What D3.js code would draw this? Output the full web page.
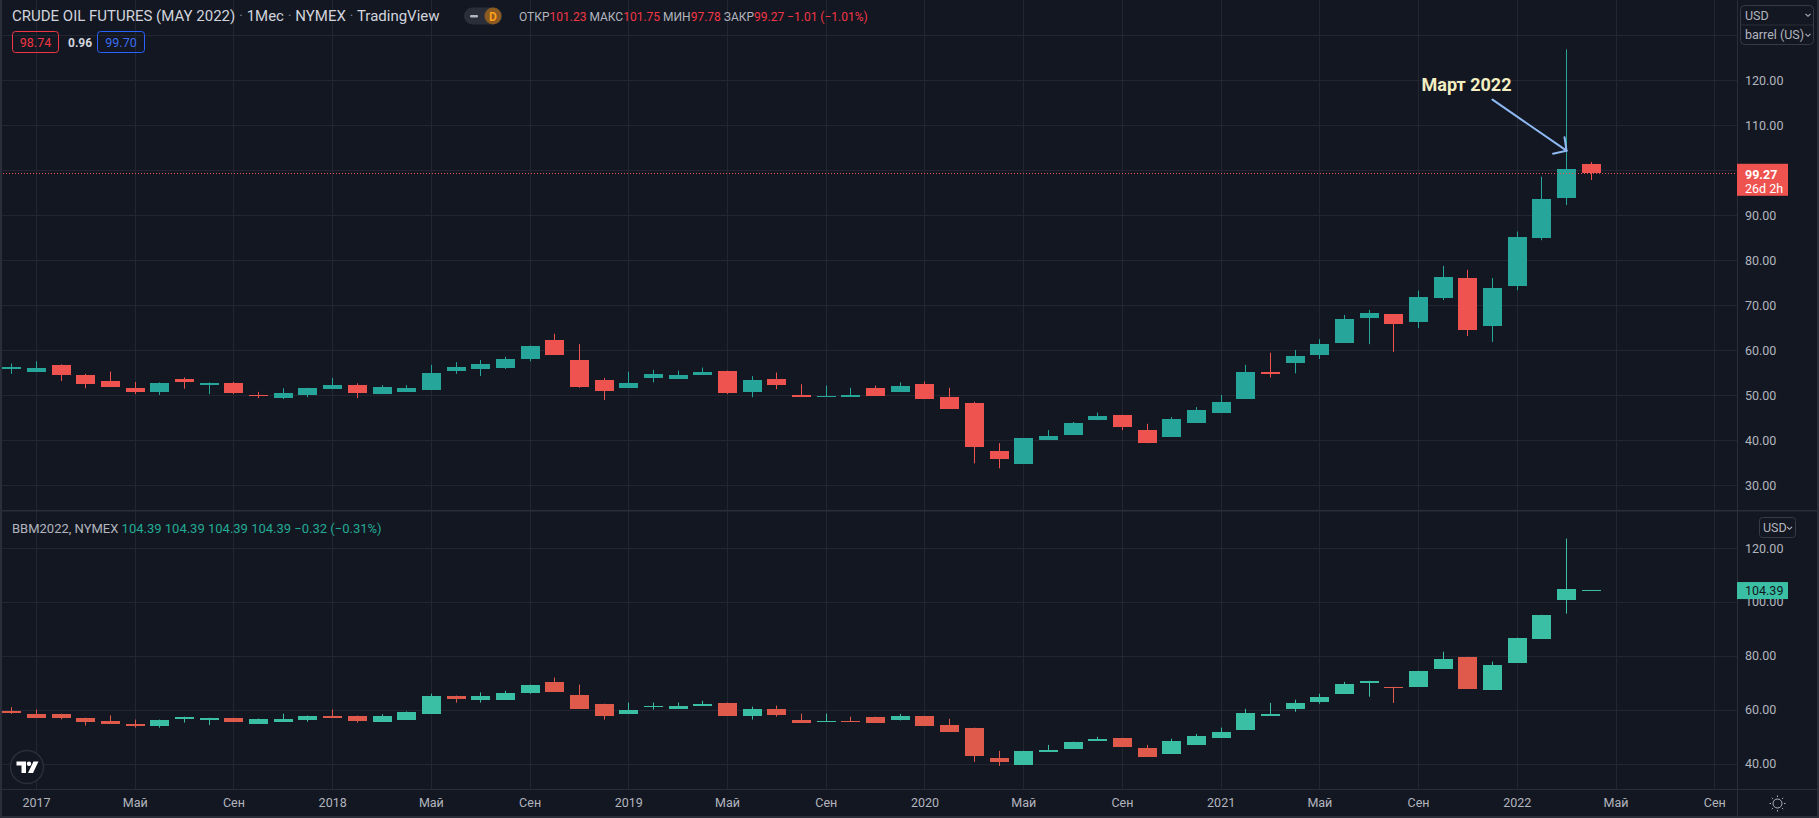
<!DOCTYPE html>
<html><head><meta charset="utf-8">
<script src="https://cdn.jsdelivr.net/npm/d3@7"></script>
<style>
html,body{margin:0;padding:0;background:#131722;overflow:hidden}
svg{display:block}
text{font-family:Roboto,"Noto Sans",sans-serif}
</style></head><body>
<svg id="chart" width="1819" height="818"></svg>
<script>
// ---------- DATA ----------
const months = ["2016-12",
 "2017-01","2017-02","2017-03","2017-04","2017-05","2017-06","2017-07","2017-08","2017-09","2017-10","2017-11","2017-12",
 "2018-01","2018-02","2018-03","2018-04","2018-05","2018-06","2018-07","2018-08","2018-09","2018-10","2018-11","2018-12",
 "2019-01","2019-02","2019-03","2019-04","2019-05","2019-06","2019-07","2019-08","2019-09","2019-10","2019-11","2019-12",
 "2020-01","2020-02","2020-03","2020-04","2020-05","2020-06","2020-07","2020-08","2020-09","2020-10","2020-11","2020-12",
 "2021-01","2021-02","2021-03","2021-04","2021-05","2021-06","2021-07","2021-08","2021-09","2021-10","2021-11","2021-12",
 "2022-01","2022-02","2022-03","2022-04"];

// CRUDE OIL FUTURES (MAY 2022), NYMEX
const crudeOpen = [55.8,55.1,56.7,54.4,53.1,51.6,50.7,53.6,52.3,52.7,50.1,49.4,50.0,
 51.3,52.2,50.2,50.7,51.1,55.3,55.8,56.0,58.0,62.2,57.8,53.3,
 51.6,53.9,53.6,54.5,55.3,50.7,53.6,50.0,49.6,49.6,51.6,50.7,
 52.4,49.6,48.2,37.6,34.7,40.0,41.1,44.4,45.6,42.2,40.7,43.8,
 46.0,49.1,55.1,57.1,58.9,61.6,67.1,68.0,66.2,71.6,76.0,65.3,
 74.0,84.8,93.9,101.23];
const crudeHigh = [57.0,57.5,56.8,54.7,55.2,52.9,52.8,53.9,52.8,52.9,50.7,51.5,51.6,
 53.8,52.6,52.2,52.2,56.7,57.3,57.8,58.5,61.0,63.6,61.3,53.8,
 55.2,55.6,55.4,56.1,55.4,54.2,55.0,52.4,52.1,51.6,52.1,52.8,
 53.0,51.6,48.5,39.3,40.4,42.2,44.0,46.1,45.6,43.6,45.1,47.3,
 50.0,56.7,59.4,60.0,62.4,67.8,68.9,68.0,73.2,78.7,77.8,76.0,
 86.3,98.5,126.8,101.75];
const crudeLow = [54.7,55.1,53.1,51.5,51.8,50.2,50.0,51.4,50.2,50.2,49.3,49.1,49.5,
 51.3,49.3,50.2,50.7,51.1,54.7,54.2,55.8,57.5,58.9,51.6,48.9,
 51.6,52.8,53.6,54.5,50.2,49.5,51.3,49.6,49.6,49.6,49.8,50.7,
 49.1,46.9,34.8,33.7,34.7,40.0,41.1,44.4,42.2,39.3,40.7,43.8,
 46.0,49.1,53.9,54.8,58.0,61.6,61.3,59.6,64.9,71.1,63.1,61.8,
 73.3,84.4,92.2,97.78];
const crudeClose = [56.3,56.0,54.4,52.4,51.8,50.7,52.7,52.9,52.7,50.4,49.8,50.4,51.6,
 52.2,50.4,51.8,51.6,54.9,56.2,56.9,58.0,60.9,58.9,51.8,50.9,
 52.7,54.7,54.5,55.2,50.5,53.3,52.2,49.6,49.8,50.0,49.8,52.0,
 49.1,46.9,38.4,35.8,40.4,40.9,43.8,45.3,42.9,39.3,44.7,46.7,
 48.4,55.1,54.7,58.7,61.3,66.9,68.2,65.8,71.8,76.2,64.4,73.8,
 85.0,93.5,100.28,99.27];

// BBM2022, NYMEX
const brentOpen = [59.6,58.5,58.5,57.0,55.9,54.8,54.1,56.7,56.3,57.0,54.8,55.5,56.3,
 57.8,57.8,55.5,56.3,58.5,65.2,63.7,63.7,66.3,70.4,65.6,62.2,
 58.5,61.1,60.4,61.5,62.6,57.8,60.4,56.3,55.5,55.9,57.4,56.0,
 57.7,54.4,53.3,42.1,39.5,44.3,45.4,48.4,49.5,45.8,43.6,46.9,
 49.5,52.5,57.7,60.3,62.9,65.9,70.0,68.5,68.5,75.2,79.6,67.4,
 77.4,86.3,100.8,104.39];
const brentHigh = [60.9,60.0,58.5,57.0,57.9,56.3,56.3,57.4,57.0,57.0,56.7,58.5,57.8,
 60.0,57.8,58.3,59.3,65.9,65.2,66.4,67.0,69.3,71.9,69.3,62.2,
 62.6,62.6,62.6,63.3,62.6,61.1,61.5,58.5,58.5,57.4,57.4,58.4,
 57.7,56.6,53.3,44.7,44.7,46.9,48.1,49.9,49.5,46.9,49.2,51.0,
 53.3,60.3,62.5,63.7,65.9,70.3,70.7,68.5,74.4,81.5,79.6,77.8,
 86.7,95.2,123.5,104.39];
const brentLow = [58.4,57.2,56.4,54.1,54.8,53.3,53.3,55.2,54.3,55.5,54.8,55.5,55.5,
 57.0,55.2,55.5,56.3,58.5,62.6,62.6,63.7,65.9,66.7,60.4,56.3,
 58.5,60.0,60.4,61.5,57.8,56.3,57.4,55.2,55.5,55.5,55.2,56.0,
 54.0,51.8,40.6,39.1,39.5,44.3,45.4,48.4,46.2,42.5,43.6,46.9,
 49.5,52.5,57.7,59.2,62.2,65.9,64.8,62.5,68.5,75.2,67.7,67.4,
 77.4,86.3,95.6,104.39];
const brentClose = [58.9,57.2,57.0,55.5,54.8,54.1,56.3,57.4,57.0,55.5,56.7,56.7,57.8,
 57.0,55.9,57.8,59.3,65.2,64.1,65.2,66.3,69.3,66.7,60.4,57.8,
 60.0,61.5,61.5,62.2,57.8,60.4,58.1,55.2,55.9,55.5,55.2,57.5,
 54.0,51.8,42.9,40.6,44.7,45.1,48.1,49.2,46.2,42.5,48.4,50.3,
 51.8,58.8,58.4,62.5,64.8,69.6,70.7,68.1,74.4,78.9,67.7,76.7,
 86.7,95.2,104.71,104.39];

const upperGrid = [30,40,50,60,70,80,90,100,110,120,130];
const upperTicks = [30,40,50,60,70,80,90,110,120];
const lowerTicks = [40,60,80,100,120];
const timeTickMonths = ["2017-01","2017-05","2017-09","2018-01","2018-05","2018-09","2019-01","2019-05","2019-09",
 "2020-01","2020-05","2020-09","2021-01","2021-05","2021-09","2022-01","2022-05","2022-09"];
const timeTickLabels = ["2017","Май","Сен","2018","Май","Сен","2019","Май","Сен",
 "2020","Май","Сен","2021","Май","Сен","2022","Май","Сен"];

// ---------- LAYOUT / STYLE ----------
const W = 1819, H = 818, axisX = 1737;
const upTop = 0, upBot = 510, loTop = 511, loBot = 789;
const C = {bg:"#131722", grid:"#232631", sep:"#2a2e39", text:"#b2b5be", title:"#d1d4dc",
  up:"#26a69a", down:"#ef5350", up2:"#3bbfa4", down2:"#e05a4b", blue:"#3b6cf0"};

const svg = d3.select("#chart");
svg.append("rect").attr("width",W).attr("height",H).attr("fill",C.bg);

const monthIdx = s => { const [y,m] = s.split("-").map(Number); return (y-2017)*12 + (m-1); };
const x = d3.scaleLinear().domain([0,60]).range([36, 36+60*24.68]);
const bodyW = 19;
const yU = d3.scaleLinear().domain([30,120]).range([485,80]);
const yL = d3.scaleLinear().domain([40,120]).range([763.5,548]);

const defs = svg.append("defs");
defs.append("clipPath").attr("id","clipU").append("rect").attr("x",0).attr("y",upTop).attr("width",axisX).attr("height",upBot-upTop);
defs.append("clipPath").attr("id","clipL").append("rect").attr("x",0).attr("y",loTop).attr("width",axisX).attr("height",loBot-loTop);

// ---------- GRID ----------
const grid = svg.append("g");
timeTickMonths.forEach(m => {
  const gx = Math.round(x(monthIdx(m))) + 0.5;
  grid.append("line").attr("x1",gx).attr("x2",gx).attr("y1",0).attr("y2",loBot).attr("stroke",C.grid);
});
const gU = grid.append("g").attr("clip-path","url(#clipU)");
upperGrid.forEach(v => { const gy = Math.round(yU(v))+0.5;
  gU.append("line").attr("x1",0).attr("x2",axisX).attr("y1",gy).attr("y2",gy).attr("stroke",C.grid); });
const gL = grid.append("g").attr("clip-path","url(#clipL)");
lowerTicks.forEach(v => { const gy = Math.round(yL(v))+0.5;
  gL.append("line").attr("x1",0).attr("x2",axisX).attr("y1",gy).attr("y2",gy).attr("stroke",C.grid); });

// ---------- CANDLES ----------
function candles(g, y, O, Hh, L, Cl, upC, downC) {
  const data = months.map((m,i)=>({i:monthIdx(m), o:O[i], h:Hh[i], l:L[i], c:Cl[i]}));
  const sel = g.selectAll("g.c").data(data).enter().append("g").attr("class","c");
  sel.each(function(d){
    const g1 = d3.select(this);
    const cx = Math.round(x(d.i));
    const col = d.c >= d.o ? upC : downC;
    const yh = y(d.h), yl = y(d.l);
    g1.append("rect").attr("x",cx).attr("width",1).attr("y",yh).attr("height",Math.max(1,yl-yh)).attr("fill",col);
    const yt = y(Math.max(d.o,d.c)), yb = y(Math.min(d.o,d.c));
    g1.append("rect").attr("x",cx-9).attr("width",bodyW).attr("y",Math.round(yt)).attr("height",Math.max(1,Math.round(yb-yt))).attr("fill",col);
  });
}
candles(svg.append("g").attr("clip-path","url(#clipU)"), yU, crudeOpen, crudeHigh, crudeLow, crudeClose, C.up, C.down);
candles(svg.append("g").attr("clip-path","url(#clipL)"), yL, brentOpen, brentHigh, brentLow, brentClose, C.up2, C.down2);

// last price dotted line (upper)
const lastU = crudeClose[crudeClose.length-1];
const ly = Math.round(yU(lastU))+0.5;
svg.append("line").attr("x1",0).attr("x2",axisX).attr("y1",ly).attr("y2",ly)
  .attr("stroke",C.down).attr("stroke-dasharray","1,2");

// ---------- SEPARATORS ----------
svg.append("rect").attr("x",0).attr("y",0).attr("width",2).attr("height",H).attr("fill",C.sep);
svg.append("rect").attr("x",0).attr("y",upBot).attr("width",W).attr("height",1.5).attr("fill",C.sep);
svg.append("rect").attr("x",0).attr("y",loBot).attr("width",W).attr("height",1).attr("fill",C.sep);
svg.append("rect").attr("x",axisX).attr("y",0).attr("width",1).attr("height",H).attr("fill",C.sep);
svg.append("rect").attr("x",W-2).attr("y",0).attr("width",2).attr("height",H).attr("fill",C.sep);
svg.append("rect").attr("x",0).attr("y",H-2).attr("width",W).attr("height",2).attr("fill",C.sep);

// ---------- PRICE AXES ----------
function styleAxis(g){
  g.select(".domain").remove();
  g.selectAll("text").attr("fill",C.text).attr("font-size",12.5).attr("font-family","Roboto").attr("text-anchor","start");
}
svg.append("g").attr("transform",`translate(${axisX},0)`)
  .call(d3.axisRight(yU).tickValues(upperTicks).tickFormat(d3.format(".2f")).tickSize(0).tickPadding(8))
  .call(styleAxis);
svg.append("g").attr("transform",`translate(${axisX},0)`)
  .call(d3.axisRight(yL).tickValues(lowerTicks).tickFormat(d3.format(".2f")).tickSize(0).tickPadding(8))
  .call(styleAxis);

// ---------- TIME AXIS ----------
const tAx = svg.append("g").attr("transform",`translate(0,${loBot})`)
  .call(d3.axisBottom(x).tickValues(timeTickMonths.map(monthIdx)).tickFormat((d,i)=>timeTickLabels[i]).tickSize(0).tickPadding(9));
tAx.select(".domain").remove();
tAx.selectAll("text").attr("fill",C.text).attr("font-size",12.5).attr("font-family","Roboto");

// ---------- LABELS ON AXIS ----------
const tb = svg.append("g");
tb.append("rect").attr("x",1740.5).attr("y",5.5).attr("width",73).attr("height",39).attr("rx",4)
  .attr("fill",C.bg).attr("stroke","#363a45");
tb.append("line").attr("x1",1741).attr("x2",1813).attr("y1",25).attr("y2",25).attr("stroke","#2a2e39");
tb.append("text").attr("x",1745).attr("y",19.5).attr("fill",C.text).attr("font-size",12.5).text("USD");
tb.append("text").attr("x",1745).attr("y",39).attr("fill",C.text).attr("font-size",12.5).text("barrel (US)");
function chevron(g,cx,cy){ g.append("path").attr("d",`M${cx-2.5},${cy-1.2} L${cx},${cy+1.3} L${cx+2.5},${cy-1.2}`)
  .attr("fill","none").attr("stroke",C.text).attr("stroke-width",1.1); }
chevron(tb,1808,15); chevron(tb,1808,35);

const pl = svg.append("g");
pl.append("rect").attr("x",axisX).attr("y",yU(lastU)-9.5).attr("width",51).attr("height",32).attr("fill",C.down);
pl.append("text").attr("x",1745).attr("y",yU(lastU)+5.5).attr("fill","#ffffff").attr("font-size",12.5).attr("font-weight","bold").text(d3.format(".2f")(lastU));
pl.append("text").attr("x",1745).attr("y",yU(lastU)+19.5).attr("fill","#ffffff").attr("font-size",12.5).text("26d 2h");

const lb = svg.append("g");
lb.append("rect").attr("x",1759.5).attr("y",517.5).attr("width",36).attr("height",20).attr("rx",3)
  .attr("fill",C.bg).attr("stroke","#363a45");
lb.append("text").attr("x",1763).attr("y",532).attr("fill",C.text).attr("font-size",12.5).text("USD");
chevron(lb,1789.5,528);

const lastL = brentClose[brentClose.length-1];
svg.append("rect").attr("x",axisX).attr("y",yL(lastL)-8).attr("width",51).attr("height",17).attr("fill",C.up2);
svg.append("text").attr("x",1745).attr("y",yL(lastL)+4.5).attr("fill","#131722").attr("font-size",12.5).text(d3.format(".2f")(lastL));

// ---------- HEADER ----------
const hd = svg.append("g");
const title = hd.append("text").attr("x",12).attr("y",21).attr("font-size",15).attr("fill",C.title);
title.append("tspan").text("CRUDE OIL FUTURES (MAY 2022)");
title.append("tspan").attr("fill","#787b86").text(" · ");
title.append("tspan").text("1Мес");
title.append("tspan").attr("fill","#787b86").text(" · ");
title.append("tspan").text("NYMEX");
title.append("tspan").attr("fill","#787b86").text(" · ");
title.append("tspan").text("TradingView");

hd.append("rect").attr("x",464).attr("y",7.5).attr("width",38).attr("height",17).attr("rx",8.5).attr("fill","#2a2e39");
hd.append("rect").attr("x",470).attr("y",15).attr("width",8).attr("height",2.5).attr("rx",1).attr("fill","#b2b5be");
hd.append("circle").attr("cx",493).attr("cy",16).attr("r",8.5).attr("fill","#8a5a22");
hd.append("text").attr("x",493).attr("y",20.5).attr("text-anchor","middle").attr("font-size",12).attr("font-weight","bold").attr("fill","#ff9f1a").text("D");

const ohlcLabels = ["ОТКР","МАКС","МИН","ЗАКР"];
const ohlcValues = [crudeOpen, crudeHigh, crudeLow, crudeClose].map(a=>a[a.length-1]);
const chg = lastU - crudeClose[crudeClose.length-2];
const lg = hd.append("text").attr("x",519).attr("y",20.5).attr("font-size",12);
ohlcLabels.forEach((l,i)=>{
  lg.append("tspan").attr("fill",C.text).text((i?" ":"")+l);
  lg.append("tspan").attr("fill","#f23645").text(d3.format(".2f")(ohlcValues[i]));
});
lg.append("tspan").attr("fill","#f23645").text(" " + d3.format(".2f")(chg).replace("-","−") + " (" + d3.format(".2f")(chg/crudeClose[crudeClose.length-2]*100).replace("-","−") + "%)");

hd.append("rect").attr("x",12.5).attr("y",31.5).attr("width",46).attr("height",21).attr("rx",3).attr("fill","none").attr("stroke","#f23645");
hd.append("text").attr("x",35.5).attr("y",46.5).attr("text-anchor","middle").attr("font-size",12.5).attr("fill","#f23645").text("98.74");
hd.append("text").attr("x",68).attr("y",46.5).attr("font-size",12).attr("font-weight","bold").attr("fill","#d1d4dc").text("0.96");
hd.append("rect").attr("x",97.5).attr("y",31.5).attr("width",47).attr("height",21).attr("rx",3).attr("fill","none").attr("stroke","#2962ff");
hd.append("text").attr("x",121).attr("y",46.5).attr("text-anchor","middle").attr("font-size",12.5).attr("fill",C.blue).text("99.70");

const lastBr = brentClose[brentClose.length-1], prevBr = brentClose[brentClose.length-2];
const l2 = svg.append("text").attr("x",12).attr("y",533).attr("font-size",13);
l2.append("tspan").attr("fill",C.text).text("BBM2022, NYMEX ");
[brentOpen, brentHigh, brentLow, brentClose].forEach(a=>{
  l2.append("tspan").attr("fill","#22ab94").text(" " + d3.format(".2f")(a[a.length-1]));
});
l2.append("tspan").attr("fill","#22ab94").text(" " + d3.format(".2f")(lastBr-prevBr).replace("-","−") + " (" + d3.format(".2f")((lastBr-prevBr)/prevBr*100).replace("-","−") + "%)");

// ---------- ANNOTATION ----------
const tipX = Math.round(x(monthIdx("2022-03"))) + 0.5, tipY = yU(104.3);
const an = svg.append("g");
an.append("line").attr("x1",tipX-74).attr("y1",tipY-51).attr("x2",tipX).attr("y2",tipY)
  .attr("stroke","#8fb9f2").attr("stroke-width",2).attr("stroke-linecap","round");
an.append("path").attr("d",`M${tipX-13.5},${tipY+3} L${tipX},${tipY} L${tipX-2},${tipY-13.5}`)
  .attr("fill","none").attr("stroke","#8fb9f2").attr("stroke-width",2).attr("stroke-linecap","round");
an.append("text").attr("x",tipX-145).attr("y",tipY-60).attr("font-size",18).attr("font-weight","bold")
  .attr("fill","#f4efc2").text("Март 2022");

// ---------- LOGO & SUN ----------
const lo = svg.append("g").attr("transform","translate(27,767)");
lo.append("circle").attr("r",16.5).attr("fill",C.bg).attr("stroke","#2a2e39").attr("stroke-width",1.5);
lo.append("path").attr("d","M-10.5,-5.5 H-1 V6 H-5.5 V-1.5 H-10.5 Z").attr("fill","#ffffff");
lo.append("circle").attr("cx",2).attr("cy",-3.3).attr("r",2.2).attr("fill","#ffffff");
lo.append("path").attr("d","M6.5,-5.5 H11.5 L6,6 H1 Z").attr("fill","#ffffff");

const sun = svg.append("g").attr("transform","translate(1777.5,803.5)").attr("stroke",C.text).attr("fill","none").attr("stroke-width",1);
sun.append("circle").attr("r",4.5);
d3.range(8).forEach(k=>{ const a=k*Math.PI/4;
  sun.append("line").attr("x1",Math.cos(a)*6.5).attr("y1",Math.sin(a)*6.5).attr("x2",Math.cos(a)*8).attr("y2",Math.sin(a)*8); });
</script>
</body></html>
